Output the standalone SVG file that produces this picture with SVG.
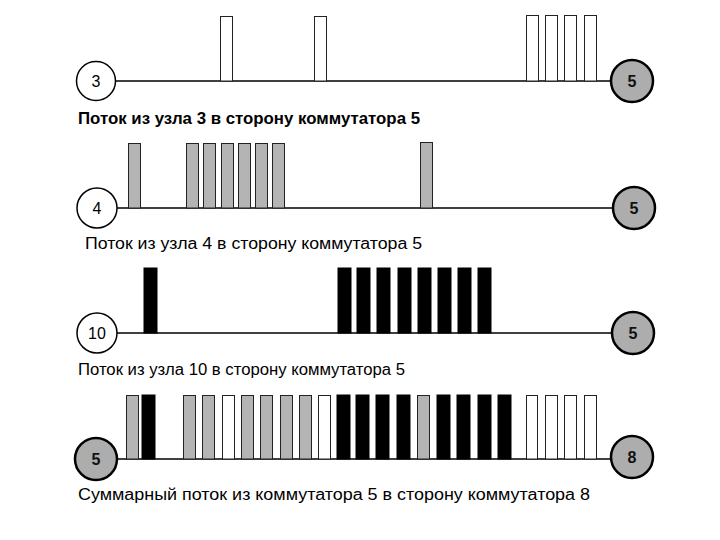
<svg xmlns="http://www.w3.org/2000/svg" width="720" height="540" viewBox="0 0 720 540">
<style>
.bg{fill:#ffffff}
.ln{stroke:#000;stroke-width:1.5;fill:none}
.nw{fill:#fff;stroke:#000;stroke-width:1.5}
.ng{fill:#adadad;stroke:#000;stroke-width:2.5}
.nt{font-family:"Liberation Sans",Arial,sans-serif;font-size:16px;fill:#000;text-anchor:middle}
.ntb{font-family:"Liberation Sans",Arial,sans-serif;font-size:16px;font-weight:bold;fill:#111;text-anchor:middle}
.w{fill:#fff;stroke:#222;stroke-width:1}
.g{fill:#b4b4b4;stroke:#222;stroke-width:1}
.b{fill:#000;stroke:#000;stroke-width:1}
.lb{font-family:"Liberation Sans",Arial,sans-serif;font-size:16px;fill:#000}
</style>
<rect class="bg" x="0" y="0" width="720" height="540"/>
<g id="connectors">
<line class="ln" x1="115" y1="81" x2="612" y2="81"/>
<line class="ln" x1="117" y1="208" x2="613" y2="208"/>
<line class="ln" x1="117" y1="333" x2="612" y2="333"/>
<line class="ln" x1="117" y1="459" x2="611" y2="459"/>
</g>
<g id="stream-3">
<rect class="w" x="220.5" y="16.5" width="12" height="64.5"/>
<rect class="w" x="314.5" y="16.5" width="12" height="64.5"/>
<rect class="w" x="526.5" y="15.5" width="12" height="65.5"/>
<rect class="w" x="545.5" y="15.5" width="12" height="65.5"/>
<rect class="w" x="564.5" y="15.5" width="12" height="65.5"/>
<rect class="w" x="584.5" y="15.5" width="12" height="65.5"/>
</g>
<g id="stream-4">
<rect class="g" x="128.5" y="143.5" width="12" height="64.5"/>
<rect class="g" x="186.5" y="143.5" width="12" height="64.5"/>
<rect class="g" x="203.5" y="143.5" width="12" height="64.5"/>
<rect class="g" x="221.5" y="143.5" width="12" height="64.5"/>
<rect class="g" x="238.5" y="143.5" width="12" height="64.5"/>
<rect class="g" x="255.5" y="143.5" width="12" height="64.5"/>
<rect class="g" x="272.5" y="143.5" width="12" height="64.5"/>
<rect class="g" x="420.5" y="142.5" width="12" height="65.5"/>
</g>
<g id="stream-10">
<rect class="b" x="144" y="268" width="13" height="65"/>
<rect class="b" x="338" y="268" width="13" height="65"/>
<rect class="b" x="357" y="268" width="13" height="65"/>
<rect class="b" x="377" y="268" width="13" height="65"/>
<rect class="b" x="398" y="268" width="13" height="65"/>
<rect class="b" x="418" y="268" width="13" height="65"/>
<rect class="b" x="438" y="268" width="13" height="65"/>
<rect class="b" x="458" y="268" width="13" height="65"/>
<rect class="b" x="478" y="268" width="13" height="65"/>
</g>
<g id="stream-sum">
<rect class="g" x="126.5" y="395.5" width="12" height="63.5"/>
<rect class="b" x="142" y="395" width="13" height="64"/>
<rect class="g" x="183.5" y="395.5" width="12" height="63.5"/>
<rect class="g" x="202.5" y="395.5" width="12" height="63.5"/>
<rect class="w" x="222.5" y="395.5" width="12" height="63.5"/>
<rect class="g" x="241.5" y="395.5" width="12" height="63.5"/>
<rect class="g" x="260.5" y="395.5" width="12" height="63.5"/>
<rect class="g" x="280.5" y="395.5" width="12" height="63.5"/>
<rect class="g" x="299.5" y="395.5" width="12" height="63.5"/>
<rect class="w" x="318.5" y="395.5" width="12" height="63.5"/>
<rect class="b" x="337" y="395" width="13" height="64"/>
<rect class="b" x="356" y="395" width="13" height="64"/>
<rect class="b" x="376" y="395" width="13" height="64"/>
<rect class="b" x="397" y="395" width="13" height="64"/>
<rect class="g" x="417.5" y="395.5" width="12" height="63.5"/>
<rect class="b" x="437" y="395" width="13" height="64"/>
<rect class="b" x="457" y="395" width="13" height="64"/>
<rect class="b" x="478" y="395" width="13" height="64"/>
<rect class="b" x="498" y="395" width="13" height="64"/>
<rect class="w" x="526.5" y="395.5" width="11" height="63.5"/>
<rect class="w" x="545.5" y="395.5" width="12" height="63.5"/>
<rect class="w" x="564.5" y="395.5" width="12" height="63.5"/>
<rect class="w" x="584.5" y="395.5" width="12" height="63.5"/>
</g>
<g id="node-3"><circle class="nw" cx="96" cy="81" r="19.5"/><text class="nt" x="96" y="87">3</text></g>
<g id="node-5a"><circle class="ng" cx="632" cy="81" r="21"/><text class="ntb" x="632" y="87">5</text></g>
<g id="node-4"><circle class="nw" cx="97" cy="208" r="20"/><text class="nt" x="97" y="214">4</text></g>
<g id="node-5b"><circle class="ng" cx="634" cy="208" r="21"/><text class="ntb" x="634" y="214">5</text></g>
<g id="node-10"><circle class="nw" cx="97" cy="333" r="20"/><text class="nt" x="97" y="339">10</text></g>
<g id="node-5c"><circle class="ng" cx="633" cy="333" r="21"/><text class="ntb" x="633" y="339">5</text></g>
<g id="node-5d"><circle class="ng" cx="96" cy="459" r="21"/><text class="ntb" x="96" y="465">5</text></g>
<g id="node-8"><circle class="ng" cx="632" cy="457" r="21"/><text class="ntb" x="632" y="463">8</text></g>
<g id="labels">
<text class="lb" x="78" y="124" font-weight="bold" textLength="342" lengthAdjust="spacingAndGlyphs">Поток из узла 3 в сторону коммутатора 5</text>
<text class="lb" x="85" y="249" textLength="337" lengthAdjust="spacingAndGlyphs">Поток из узла 4 в сторону коммутатора 5</text>
<text class="lb" x="78" y="375" textLength="327" lengthAdjust="spacingAndGlyphs">Поток из узла 10 в сторону коммутатора 5</text>
<text class="lb" x="78" y="500" textLength="512" lengthAdjust="spacingAndGlyphs">Суммарный поток из коммутатора 5 в сторону коммутатора 8</text>
</g>
</svg>
